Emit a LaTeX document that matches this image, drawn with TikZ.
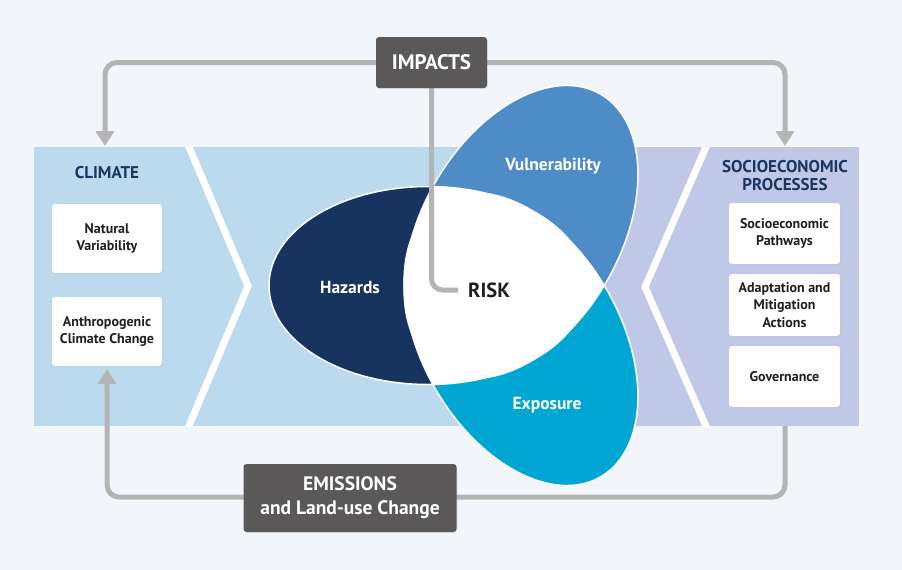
\documentclass[tikz,border=0pt]{standalone}
\usepackage{fontspec}
\setmainfont{PT Sans}
\usetikzlibrary{arrows.meta,shadows}
\definecolor{bg}{HTML}{F2F5FA}
\definecolor{panelL}{HTML}{BBDAED}
\definecolor{panelR}{HTML}{BFC8E6}
\definecolor{haz}{HTML}{17335F}
\definecolor{vul}{HTML}{4E8CC8}
\definecolor{expo}{HTML}{02A6D3}
\definecolor{boxgray}{HTML}{5A5859}
\definecolor{arrowgray}{HTML}{B4B4B4}
\definecolor{navy}{HTML}{1B365F}
\definecolor{txt}{HTML}{231F20}
\begin{document}
\begin{tikzpicture}[x=1pt,y=-1pt,
  whitebox/.style={fill=white, rounded corners=3pt, minimum width=110pt, inner sep=0pt,
    align=center, font=\bfseries\fontsize{14}{17.5}\selectfont, text=txt,
    drop shadow={opacity=0.12, shadow xshift=1pt, shadow yshift=-1pt}},
  darkbox/.style={fill=boxgray, rounded corners=3pt, text=white, align=center, inner sep=0pt,
    drop shadow={opacity=0.12, shadow xshift=1pt, shadow yshift=-1pt}},
  flow/.style={draw=arrowgray, line width=5pt, rounded corners=12pt},
  tipped/.style={-{Triangle[length=15pt,width=18pt]}},
  petaltext/.style={text=white, font=\bfseries\fontsize{17.5}{20}\selectfont},
  title/.style={text=navy, align=center, font=\bfseries\fontsize{17}{18}\selectfont},
  chev/.style={draw=white, line width=7pt, line join=miter},
  petalline/.style={draw=white, line width=1.5pt}
]
\useasboundingbox (0,0) rectangle (902,570);
\fill[bg] (0,0) rectangle (902,570);

% panels
\fill[panelL] (34,147) rectangle (605,426);
\fill[panelR] (605,147) rectangle (859,426);
\begin{scope}
  \clip (34,147) rectangle (859,426);
  \draw[chev] (186,140) -- (248,286) -- (186,433);
  \draw[chev] (709,140) -- (645,287) -- (709,433);
\end{scope}

% petals
\fill[haz] (428,285.5) ellipse [x radius=159, y radius=99];
\fill[vul, rotate around={60:(521,231.8)}] (521,231.8) ellipse [x radius=159, y radius=99];
\fill[expo, rotate around={-60:(521,339.2)}] (521,339.2) ellipse [x radius=159, y radius=99];
\begin{scope}
  \clip (428,285.5) ellipse [x radius=159, y radius=99];
  \fill[white, rotate around={60:(521,231.8)}] (521,231.8) ellipse [x radius=159, y radius=99];
  \fill[white, rotate around={-60:(521,339.2)}] (521,339.2) ellipse [x radius=159, y radius=99];
\end{scope}
\begin{scope}
  \clip[rotate around={60:(521,231.8)}] (521,231.8) ellipse [x radius=159, y radius=99];
  \fill[white, rotate around={-60:(521,339.2)}] (521,339.2) ellipse [x radius=159, y radius=99];
\end{scope}
\draw[petalline] (428,285.5) ellipse [x radius=159, y radius=99];
\draw[petalline, rotate around={60:(521,231.8)}] (521,231.8) ellipse [x radius=159, y radius=99];
\draw[petalline, rotate around={-60:(521,339.2)}] (521,339.2) ellipse [x radius=159, y radius=99];

\node[petaltext] (vul) at (553,166) {Vulnerability};
\node[petaltext] (haz) at (350,287) {Hazards};
\node[petaltext] (exp) at (547,405) {Exposure};
\node[text=txt, anchor=west, inner sep=0pt, font=\bfseries\fontsize{20.5}{24}\selectfont] (risk) at (468,290) {RISK};

% titles
\node[title] (climate) at (107,173) {CLIMATE};
\node[title] (socio) at (785,176) {SOCIOECONOMIC\\PROCESSES};

% boxes
\node[whitebox, minimum height=69pt] (nat) at (107,238.5) {Natural\\Variability};
\node[whitebox, minimum height=69pt] (anth) at (107,331.5) {Anthropogenic\\Climate Change};
\node[whitebox, minimum width=111pt, minimum height=61pt] (path) at (784.5,233.5) {Socioeconomic\\Pathways};
\node[whitebox, minimum width=111pt, minimum height=62pt] (adapt) at (784.5,305) {Adaptation and\\Mitigation\\Actions};
\node[whitebox, minimum width=111pt, minimum height=61pt] (gov) at (784.5,376.5) {Governance};

% connector end points
\coordinate (climtop) at (105,146);
\coordinate (soctop) at (785,146);
\coordinate (socbot) at (785,426);

% connectors
\draw[flow, tipped] (431.5,62.5) -| (climtop);
\draw[flow, tipped] (431.5,62.5) -| (soctop);
\draw[flow, rounded corners=11pt] (431.5,62.5) |- ([xshift=-10pt]risk.west);
\draw[flow] (socbot) |- (350,497);
\draw[flow, tipped, shorten >=3pt] (350,497) -| (anth.south);

% dark boxes
\node[darkbox, minimum width=111pt, minimum height=51pt, font=\bfseries\fontsize{21}{24}\selectfont] (imp) at (431.5,62.5) {IMPACTS};
\node[darkbox, minimum width=213pt, minimum height=68pt, font=\bfseries\fontsize{19.5}{24}\selectfont] (emi) at (350,498)
  {EMISSIONS\\and Land-use Change};
\end{tikzpicture}
\end{document}
